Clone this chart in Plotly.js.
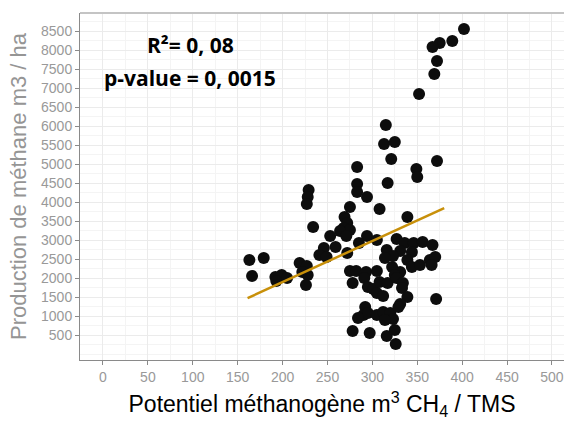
<!DOCTYPE html>
<html>
<head>
<meta charset="utf-8">
<script src="https://cdn.plot.ly/plotly-3.0.1.min.js"></script>
<style>html,body{margin:0;padding:0;background:#fff;}#chart{width:564px;height:424px;}</style>
</head>
<body>
<div id="chart"></div>
<script>
// Potentiel méthanogène (m3 CH4 / TMS)
const potentiel = [402,389,375,367,372,369,352,315,313,325,321,283,372,349,350,283,283,317,294,229,228,227,308,275,339,269,272,268,275,264,271,234,253,294,305,285,327,336,346,356,367,246,259,241,249,272,316,331,344,323,314,339,364,370,344,353,331,322,325,163,179,166,192,199,205,193,219,227,222,228,226,275,282,293,305,278,291,295,301,305,312,308,317,327,334,333,339,331,371,292,290,295,305,312,320,323,314,284,278,297,316,325,326,366,329];
// Production de méthane (m3 / ha)
const production = [8550,8240,8184,8079,7711,7368,6842,6026,5526,5579,5132,4921,5079,4868,4658,4474,4263,4500,4132,4316,4132,3947,3816,3868,3605,3605,3447,3316,3263,3237,3105,3342,3105,3105,3000,2921,3026,2921,2921,2947,2868,2789,2816,2605,2553,2658,2737,2711,2684,2579,2526,2474,2474,2553,2289,2342,2158,2289,2079,2474,2526,2053,2026,2079,2000,1921,2395,2316,2158,2079,1816,2184,2184,2158,2184,1868,2000,1763,1711,1605,1526,1895,1868,2000,1868,1737,1500,1316,1447,1237,1026,1079,1026,1105,1079,921,895,947,605,553,474,632,263,2342,1237];
// Regression line end points
const fitX = [161, 380];
const fitY = [1470, 3840];
// Tick labels
const xTicks = [0,50,100,150,200,250,300,350,400,450,500];
const yTicks = [500,1000,1500,2000,2500,3000,3500,4000,4500,5000,5500,6000,6500,7000,7500,8000,8500];
const annR2 = "R²= 0, 08";
const annP = "p-value = 0, 0015";

const traces = [
  {x: potentiel, y: production, type: 'scatter', mode: 'markers',
   marker: {color: '#0d0d0d', size: 12}, hoverinfo: 'skip'},
  {x: fitX, y: fitY, type: 'scatter', mode: 'lines',
   line: {color: '#c8900a', width: 2.5}, hoverinfo: 'skip'}
];

const tickFont = {family: 'Liberation Sans, Arial, sans-serif', size: 14, color: '#999999'};

const layout = {
  width: 564, height: 424,
  margin: {l: 80, r: 0, t: 13, b: 64},
  paper_bgcolor: '#ffffff', plot_bgcolor: '#ffffff',
  showlegend: false,
  xaxis: {
    range: [-25.6, 513.4],
    tickvals: xTicks, ticktext: xTicks.map(String),
    tickfont: tickFont,
    ticks: 'outside', ticklen: 4, tickcolor: '#8a8a8a',
    showline: true, linecolor: '#8a8a8a', linewidth: 1,
    showgrid: true, gridcolor: '#ebebeb', gridwidth: 1,
    minor: {dtick: 25, showgrid: true, gridcolor: '#f4f4f4', gridwidth: 1},
    zeroline: false,
    title: {text: 'Potentiel méthanogène m<sup>3</sup> CH<sub>4</sub> / TMS',
            font: {family: 'Liberation Sans, Arial, sans-serif', size: 23, color: '#000'},
            standoff: 12}
  },
  yaxis: {
    range: [-158, 8974],
    tickvals: yTicks, ticktext: yTicks.map(String),
    tickfont: tickFont,
    ticks: 'outside', ticklen: 4, tickcolor: '#8a8a8a',
    showline: true, linecolor: '#8a8a8a', linewidth: 1,
    showgrid: true, gridcolor: '#ebebeb', gridwidth: 1,
    minor: {dtick: 250, showgrid: true, gridcolor: '#f4f4f4', gridwidth: 1},
    zeroline: false,
    title: {text: 'Production de méthane m3 / ha',
            font: {family: 'Liberation Sans, Arial, sans-serif', size: 22, color: '#959595'},
            standoff: 8}
  },
  shapes: [
    {type: 'line', xref: 'paper', yref: 'paper', x0: 0, x1: 1, y0: 1, y1: 1,
     line: {color: '#c4c4c4', width: 2}}
  ],
  annotations: [
    {text: '<b>' + annR2 + '</b>', xref: 'paper', yref: 'paper',
     x: (190 - 80) / 484, y: (360 - 45) / 347, showarrow: false,
     xanchor: 'center', yanchor: 'middle',
     font: {family: 'Open Sans, sans-serif', size: 21, color: '#000'}},
    {text: '<b>' + annP + '</b>', xref: 'paper', yref: 'paper',
     x: (190 - 80) / 484, y: (360 - 78) / 347, showarrow: false,
     xanchor: 'center', yanchor: 'middle',
     font: {family: 'Open Sans, sans-serif', size: 21, color: '#000'}}
  ]
};

Plotly.newPlot('chart', traces, layout, {staticPlot: true, displayModeBar: false});
</script>
</body>
</html>
